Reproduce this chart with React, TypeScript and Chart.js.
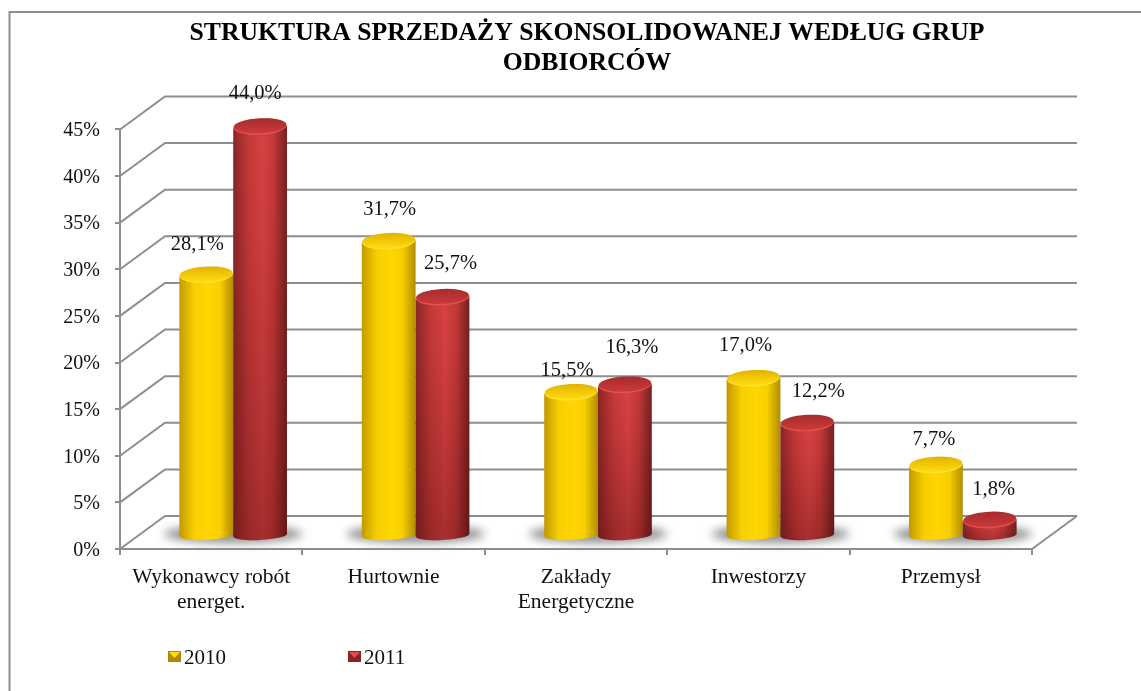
import React, { useEffect, useRef } from "react";
import { Chart, registerables } from "chart.js";

Chart.register(...registerables);

const categories = [["Wykonawcy robót", "energet."], "Hurtownie", ["Zakłady", "Energetyczne"], "Inwestorzy", "Przemysł"];
const values2010 = [28.1, 31.7, 15.5, 17.0, 7.7];
const values2011 = [44.0, 25.7, 16.3, 12.2, 1.8];
const titleLines = ["STRUKTURA SPRZEDAŻY SKONSOLIDOWANEJ WEDŁUG GRUP", "ODBIORCÓW"];
const seriesNames = ["2010", "2011"];
// Hand placement of the value labels relative to each cylinder's top
const labelNudge2010 = [[-9, -29], [1, -31], [-4, -21], [-8, -32], [-2, -25]];
const labelNudge2011 = [[-5, -32], [8, -33], [7, -36], [11, -31], [4, -30]];

const FONT = '"Liberation Serif", "Times New Roman", serif';
const LINE = "#8e8e8e";
const TEXT = "#111";
const DEPTH_X = 45;
const DEPTH_Y = 33;
const FLOOR_X = 22;
const FLOOR_Y = 16;
const RY = 8;
const BASE_RY = 5;
const TILT = -0.05;

const palette = [
  { edgeL: "#c09a00", mid: "#ffd600", mid2: "#f8cf00", edgeR: "#b08c00", top: "#e2b200", topHi: "#ffdc10", rim: "#ffe030", shade: 0 },
  { edgeL: "#8a2626", mid: "#d84242", mid2: "#c43838", edgeR: "#762020", top: "#a62b2b", topHi: "#cc3a3a", rim: "#e65050", shade: 0.3 },
];

function drawCylinder(ctx: CanvasRenderingContext2D, x: number, topY: number, baseY: number, w: number, p: any) {
  const rx = w / 2;
  const l = x - rx;
  const r = x + rx;
  const dy = Math.sin(TILT) * rx;
  ctx.save();
  ctx.beginPath();
  ctx.moveTo(l, topY - dy);
  ctx.lineTo(l, baseY - dy * 0.6);
  ctx.ellipse(x, baseY, rx, BASE_RY, TILT, Math.PI, 0, true);
  ctx.lineTo(r, topY + dy);
  ctx.ellipse(x, topY, rx, RY, TILT, 0, Math.PI, false);
  ctx.closePath();
  const g = ctx.createLinearGradient(l, 0, r, 0);
  g.addColorStop(0, p.edgeL);
  g.addColorStop(0.28, p.mid2);
  g.addColorStop(0.55, p.mid);
  g.addColorStop(0.75, p.mid2);
  g.addColorStop(1, p.edgeR);
  ctx.fillStyle = g;
  ctx.fill();
  if (p.shade > 0) {
    ctx.clip();
    const v = ctx.createLinearGradient(0, topY, 0, baseY + RY);
    v.addColorStop(0, "rgba(60,0,0,0)");
    v.addColorStop(0.25, "rgba(60,0,0,0.05)");
    v.addColorStop(1, `rgba(50,0,0,${p.shade})`);
    ctx.fillStyle = v;
    ctx.fillRect(l - 2, topY - RY - 4, w + 4, baseY - topY + 2 * RY + 8);
  }
  ctx.restore();
  ctx.save();
  // highlighted rim just under the cap, then the cap itself
  ctx.beginPath();
  ctx.ellipse(x, topY + 1, rx - 0.5, RY, TILT, 0, Math.PI * 2);
  ctx.fillStyle = p.rim;
  ctx.fill();
  ctx.beginPath();
  ctx.ellipse(x, topY, rx - 0.5, RY - 0.5, TILT, 0, Math.PI * 2);
  const c = ctx.createLinearGradient(0, topY - RY, 0, topY + RY);
  c.addColorStop(0, p.top);
  c.addColorStop(1, p.topHi);
  ctx.fillStyle = c;
  ctx.fill();
  ctx.restore();
}

const cylinderPlugin = {
  id: "cylinders",
  beforeDraw(chart: any) {
    const { ctx, chartArea: a, scales } = chart;
    const y = scales.y;
    ctx.save();
    ctx.fillStyle = "#fff";
    ctx.fillRect(0, 0, chart.width, chart.height);
    ctx.strokeStyle = LINE;
    ctx.lineWidth = 2;
    // outer frame
    ctx.beginPath();
    ctx.moveTo(9.5, chart.height);
    ctx.lineTo(9.5, 12);
    ctx.lineTo(chart.width, 12);
    ctx.stroke();
    // back wall grid and side wall diagonals
    y.ticks.forEach((t: any) => {
      const py = y.getPixelForValue(t.value);
      ctx.beginPath();
      ctx.moveTo(a.left, py);
      ctx.lineTo(a.left + DEPTH_X, py - DEPTH_Y);
      ctx.lineTo(a.right + DEPTH_X, py - DEPTH_Y);
      ctx.stroke();
    });
    // floor right edge
    ctx.beginPath();
    ctx.moveTo(a.right, a.bottom);
    ctx.lineTo(a.right + DEPTH_X, a.bottom - DEPTH_Y);
    ctx.stroke();
    ctx.restore();
  },
  beforeDatasetDraw() {
    return false;
  },
  beforeDatasetsDraw(chart: any) {
    const { ctx, data } = chart;
    const y = chart.scales.y;
    const zero = y.getPixelForValue(0) - FLOOR_Y;
    const m0 = chart.getDatasetMeta(0).data;
    const m1 = chart.getDatasetMeta(1).data;
    // soft floor shadows
    ctx.save();
    ctx.filter = "blur(5px)";
    ctx.fillStyle = "#8f8f8f";
    m0.forEach((el: any, i: number) => {
      const cx = (el.x + m1[i].x) / 2 + FLOOR_X;
      ctx.beginPath();
      ctx.ellipse(cx, zero + 1, 69, 9, 0, 0, Math.PI * 2);
      ctx.fill();
    });
    ctx.restore();
    data.datasets.forEach((_: any, d: number) => {
      chart.getDatasetMeta(d).data.forEach((el: any) => {
        const topY = el.y - FLOOR_Y + 3;
        drawCylinder(ctx, el.x + FLOOR_X, topY, zero + 2, el.width, palette[d]);
      });
    });
  },
  afterDatasetsDraw(chart: any) {
    const { ctx, data } = chart;
    const nudges = [labelNudge2010, labelNudge2011];
    ctx.save();
    ctx.font = `20.5px ${FONT}`;
    ctx.fillStyle = TEXT;
    ctx.textAlign = "center";
    ctx.textBaseline = "middle";
    data.datasets.forEach((ds: any, d: number) => {
      chart.getDatasetMeta(d).data.forEach((el: any, i: number) => {
        const txt = ds.data[i].toFixed(1).replace(".", ",") + "%";
        ctx.fillText(txt, el.x + FLOOR_X + nudges[d][i][0], el.y - FLOOR_Y + 3 + nudges[d][i][1]);
      });
    });
    // legend
    const legendX = [168, 348];
    const legendY = 651;
    const swatch = [
      ["#b08a00", "#ffe000"],
      ["#8a2424", "#e8474f"],
    ];
    ctx.font = `21px ${FONT}`;
    data.datasets.forEach((ds: any, d: number) => {
      const sx = legendX[d];
      ctx.fillStyle = swatch[d][0];
      ctx.fillRect(sx, legendY, 13, 11);
      ctx.fillStyle = swatch[d][1];
      ctx.beginPath();
      ctx.moveTo(sx + 1, legendY + 1);
      ctx.lineTo(sx + 12, legendY + 1);
      ctx.lineTo(sx + 6.5, legendY + 7);
      ctx.closePath();
      ctx.fill();
      ctx.fillStyle = TEXT;
      ctx.textAlign = "left";
      ctx.fillText(ds.label, sx + 16, legendY + 7);
    });
    ctx.restore();
  },
  afterLayout(chart: any) {
    // the title is centred over the plot, not over the page
    if (chart.titleBlock) {
      chart.titleBlock.left = 33;
      chart.titleBlock.right = chart.width;
    }
    // the tick labels sit a touch below their ticks in the reference
    const y = chart.scales.y;
    if (!y.__nudged) {
      y.__nudged = true;
      const orig = y.drawLabels;
      y.drawLabels = function (area: any) {
        chart.ctx.save();
        chart.ctx.translate(0, 1.5);
        orig.call(this, area);
        chart.ctx.restore();
      };
    }
  },
};

export default function App() {
  const ref = useRef<HTMLCanvasElement>(null);
  useEffect(() => {
    if (!ref.current) return;
    const chart = new Chart(ref.current, {
      type: "bar",
      data: {
        labels: categories as any,
        datasets: [
          { label: seriesNames[0], data: values2010, backgroundColor: "#ffd500" },
          { label: seriesNames[1], data: values2011, backgroundColor: "#c93838" },
        ],
      },
      options: {
        animation: false,
        responsive: false,
        layout: { padding: { left: 0, right: 109, top: 0, bottom: 0 } },
        datasets: { bar: { categoryPercentage: 0.59, barPercentage: 1 } },
        plugins: {
          legend: { display: false },
          tooltip: { enabled: false },
          title: {
            display: true,
            text: titleLines,
            color: "#000",
            font: { family: FONT, size: 25.7, weight: "bold", lineHeight: 1.17 },
            padding: { top: 18, bottom: 51.3 },
          },
        },
        scales: {
          x: {
            border: { color: LINE, width: 2 },
            grid: { drawOnChartArea: false, color: LINE, lineWidth: 2, tickLength: 6 },
            ticks: { color: TEXT, font: { family: FONT, size: 21.5, lineHeight: 1.17 }, padding: 10, maxRotation: 0, autoSkip: false },
            afterFit: (s: any) => { s.height = 142; },
          },
          y: {
            min: 0,
            max: 45,
            border: { color: LINE, width: 2 },
            grid: { drawOnChartArea: false, color: LINE, lineWidth: 2, tickLength: 5 },
            ticks: { stepSize: 5, color: TEXT, font: { family: FONT, size: 20 }, padding: 15, callback: (v: any) => `${v}%` },
            afterFit: (s: any) => { s.width = 120; },
          },
        },
      } as any,
      plugins: [cylinderPlugin as any],
    });
    return () => chart.destroy();
  }, []);
  return (
    <canvas
      ref={ref}
      width={1141}
      height={691}
      style={{ position: "absolute", left: 0, top: 0, display: "block" }}
    />
  );
}
